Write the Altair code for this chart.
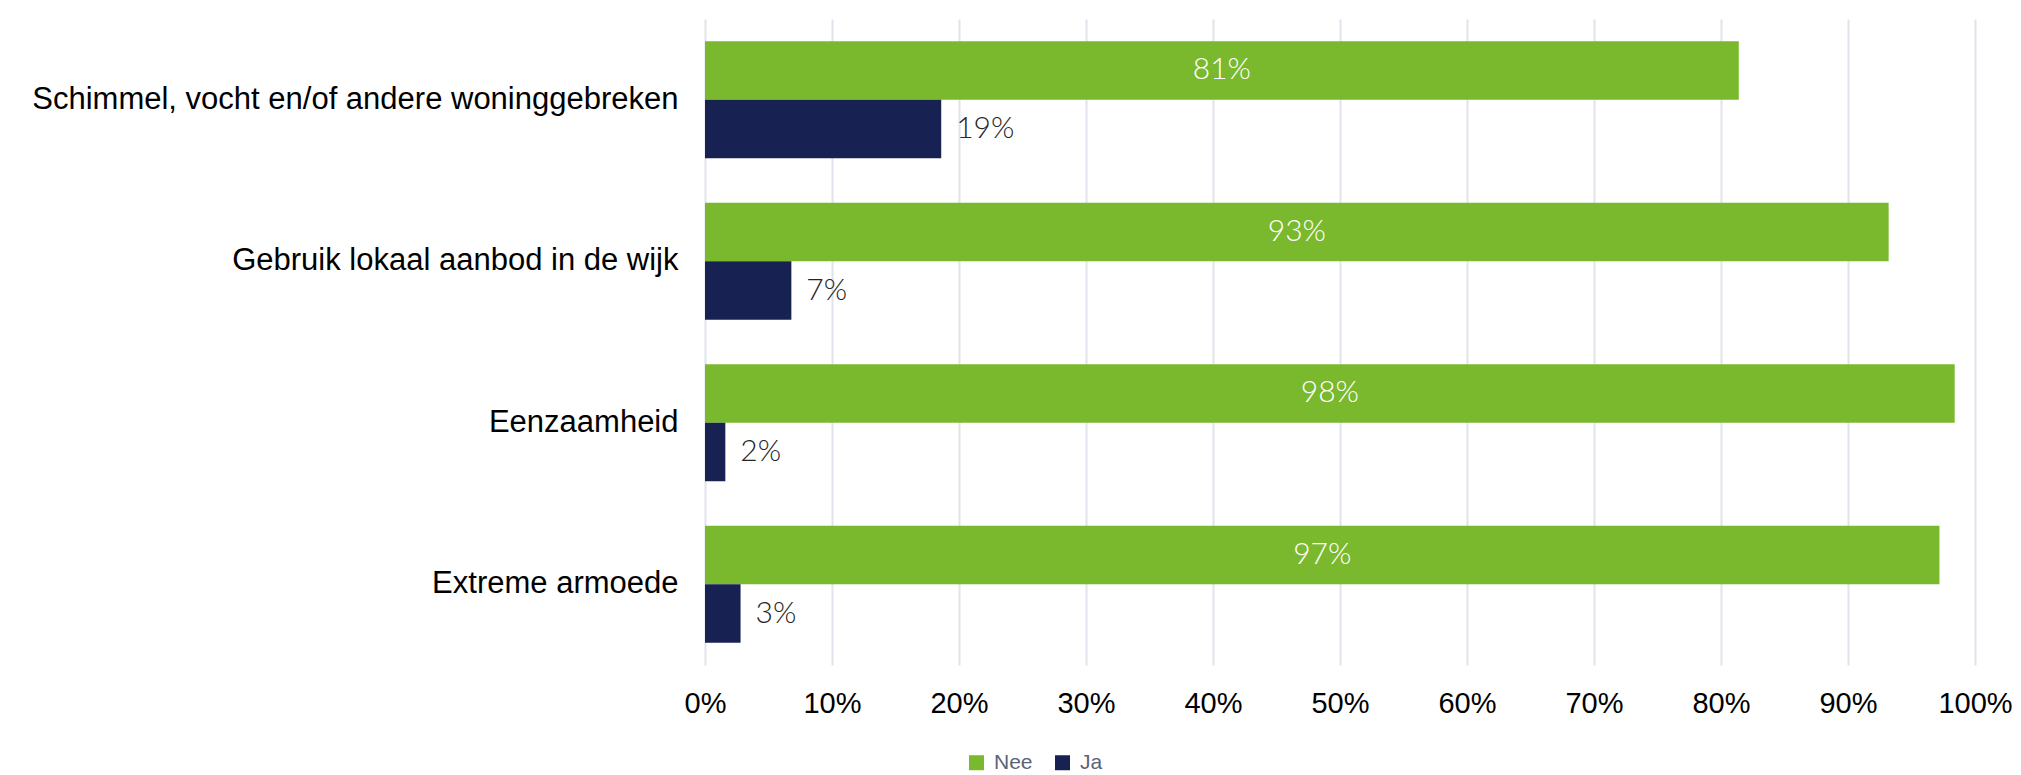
import altair as alt
import pandas as pd

categories = [
    "Schimmel, vocht en/of andere woninggebreken",
    "Gebruik lokaal aanbod in de wijk",
    "Eenzaamheid",
    "Extreme armoede",
]
nee = [81.4, 93.2, 98.4, 97.2]
ja = [18.6, 6.8, 1.6, 2.8]
series = ["Nee", "Ja"]
colors = ["#7AB92D", "#172253"]
ticks = [0, 10, 20, 30, 40, 50, 60, 70, 80, 90, 100]

rows = []
for c, n, j in zip(categories, nee, ja):
    rows.append({"cat": c, "serie": "Nee", "v": n})
    rows.append({"cat": c, "serie": "Ja", "v": j})
df = pd.DataFrame(rows)

y_enc = alt.Y(
    "cat:N",
    sort=categories,
    title=None,
    scale=alt.Scale(paddingInner=0.275, paddingOuter=0.1375),
    axis=alt.Axis(
        labelFont="Liberation Sans",
        labelFontSize=31,
        labelColor="#000000",
        labelPadding=27,
        ticks=False,
        domain=False,
        grid=False,
        labelLimit=900,
    ),
)
yoff = alt.YOffset("serie:N", sort=series, scale=alt.Scale(domain=series, paddingInner=0, paddingOuter=0))

x_scale = alt.Scale(domain=[0, 100], nice=False)

bars = alt.Chart(df).mark_bar().encode(
    x=alt.X(
        "v:Q",
        scale=x_scale,
        title=None,
        axis=alt.Axis(
            values=ticks,
            labelExpr="datum.value + '%'",
            labelFont="Liberation Sans",
            labelFontSize=29,
            labelColor="#000000",
            labelPadding=24,
            labelFlush=False,
            labelOverlap=False,
            ticks=False,
            domain=False,
            grid=True,
            gridColor="#E1E4EC",
            gridWidth=2,
        ),
    ),
    y=y_enc,
    yOffset=yoff,
    color=alt.Color(
        "serie:N",
        sort=series,
        scale=alt.Scale(domain=series, range=colors),
        legend=alt.Legend(
            title=None,
            orient="none",
            direction="horizontal",
            legendX=261,
            legendY=733,
            symbolType="square",
            symbolSize=225,
            symbolStrokeWidth=0,
            labelFont="Liberation Sans",
            labelFontSize=21,
            labelColor="#5A6378",
            labelOffset=7,
            columnPadding=19,
        ),
    ),
)

nee_labels = (
    alt.Chart(df)
    .transform_filter("datum.serie == 'Nee'")
    .transform_calculate(mid="datum.v / 2", lab="round(datum.v) + '%'")
    .mark_text(font="Lato", fontWeight=300, fontSize=30, color="#FFFFFF", align="center", baseline="middle")
    .encode(x=alt.X("mid:Q", scale=x_scale), y=y_enc, yOffset=yoff, text="lab:N")
)

ja_labels = (
    alt.Chart(df)
    .transform_filter("datum.serie == 'Ja'")
    .transform_calculate(lab="round(datum.v) + '%'")
    .mark_text(font="Lato", fontWeight=300, fontSize=30, color="#262626", align="left", baseline="middle", dx=15)
    .encode(x=alt.X("v:Q", scale=x_scale), y=y_enc, yOffset=yoff, text="lab:N")
)

chart = (
    alt.layer(bars, nee_labels, ja_labels)
    .properties(
        width=1270,
        height=646,
        autosize=alt.AutoSizeParams(type="none"),
        padding={"left": 697, "top": 11, "right": 38, "bottom": 110},
    )
    .configure_view(stroke=None)
)

chart.save("out.html", embed_options={"renderer": "svg", "actions": False})
